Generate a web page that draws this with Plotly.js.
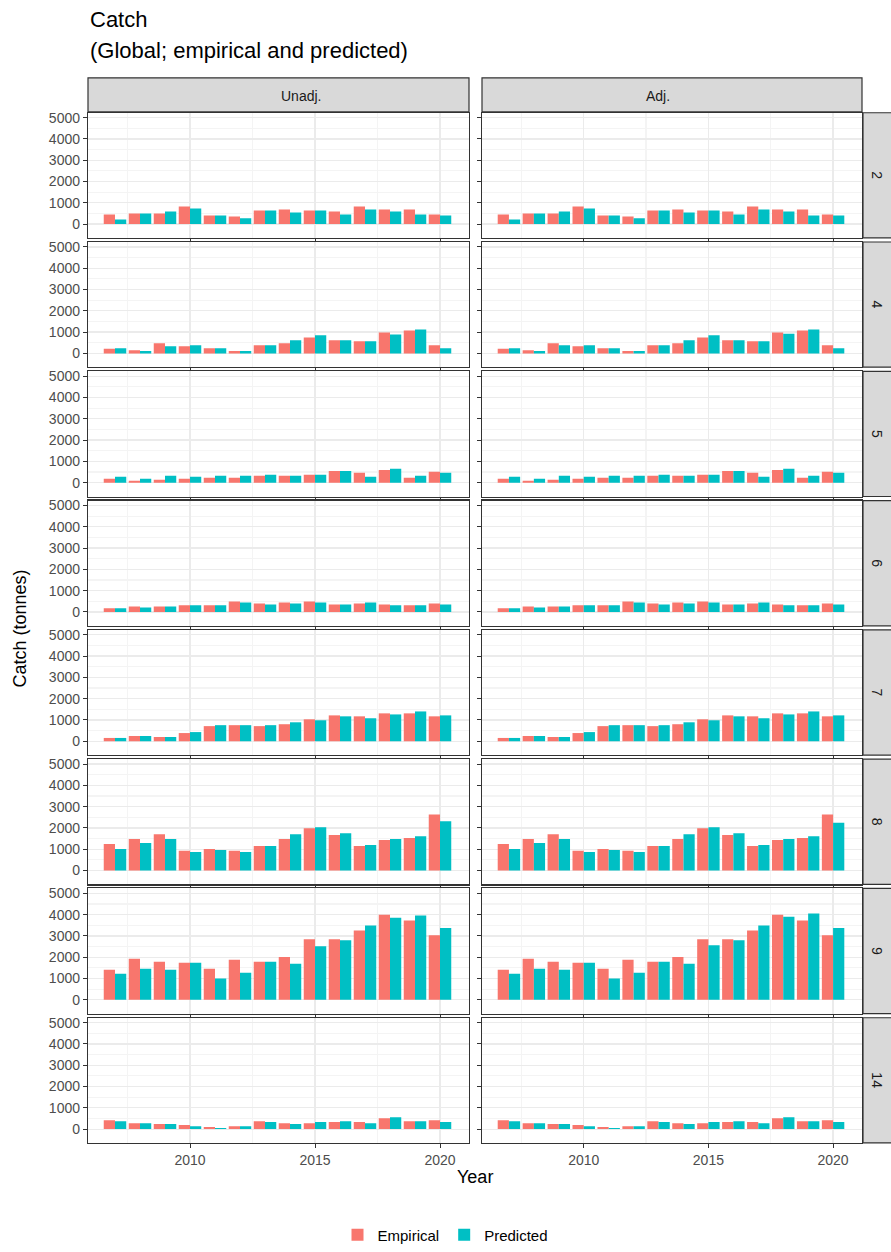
<!DOCTYPE html>
<html>
<head>
<meta charset="utf-8">
<script src="https://cdn.plot.ly/plotly-3.0.1.min.js"></script>
<style>body{margin:0}#chart{width:891px;height:1252px}</style>
</head>
<body>
<div id="chart"></div>
<script>
// Catch by area, empirical vs predicted, unadjusted and adjusted
const years = [2007, 2008, 2009, 2010, 2011, 2012, 2013, 2014, 2015, 2016, 2017, 2018, 2019, 2020];
const areas = ['2', '4', '5', '6', '7', '8', '9', '14'];
const columns = ['Unadj.', 'Adj.'];

const empUnadj = {
  '2':  [450, 500, 500, 830, 400, 360, 640, 690, 640, 590, 830, 690, 690, 450],
  '4':  [215, 150, 480, 340, 245, 110, 385, 480, 750, 615, 570, 985, 1080, 385],
  '5':  [185, 90, 140, 185, 230, 230, 320, 320, 370, 550, 460, 600, 230, 510],
  '6':  [170, 260, 260, 310, 310, 490, 400, 450, 490, 350, 400, 350, 310, 400],
  '7':  [155, 245, 200, 385, 710, 755, 710, 800, 1030, 1215, 1170, 1310, 1310, 1170],
  '8':  [1245, 1480, 1710, 925, 1015, 925, 1155, 1480, 1985, 1665, 1155, 1430, 1525, 2630],
  '9':  [1415, 1925, 1785, 1740, 1460, 1880, 1785, 2015, 2845, 2845, 3260, 4000, 3720, 3030],
  '14': [420, 280, 235, 190, 95, 140, 375, 280, 280, 330, 330, 515, 375, 420]
};
const predUnadj = {
  '2':  [220, 500, 590, 730, 400, 270, 640, 550, 640, 450, 690, 590, 450, 400],
  '4':  [245, 110, 340, 385, 245, 110, 385, 615, 850, 615, 570, 890, 1120, 245],
  '5':  [280, 185, 320, 280, 320, 320, 370, 320, 370, 550, 280, 650, 320, 460],
  '6':  [170, 215, 260, 310, 310, 450, 350, 400, 450, 350, 450, 310, 310, 350],
  '7':  [155, 245, 200, 430, 755, 755, 755, 890, 985, 1170, 1080, 1260, 1400, 1215],
  '8':  [1015, 1290, 1480, 875, 970, 875, 1155, 1710, 2030, 1755, 1200, 1480, 1615, 2310],
  '9':  [1230, 1460, 1415, 1740, 1000, 1275, 1785, 1690, 2520, 2800, 3490, 3860, 3955, 3370],
  '14': [375, 280, 235, 140, 50, 140, 330, 235, 330, 375, 280, 560, 375, 330]
};
const empAdj = empUnadj;
const predAdj = {
  '2':  [220, 500, 590, 730, 400, 270, 640, 550, 640, 450, 690, 590, 400, 400],
  '4':  [245, 110, 380, 385, 245, 110, 385, 615, 850, 615, 570, 920, 1120, 245],
  '5':  predUnadj['5'],
  '6':  predUnadj['6'],
  '7':  predUnadj['7'],
  '8':  [1015, 1290, 1480, 875, 970, 875, 1155, 1710, 2030, 1755, 1200, 1480, 1615, 2250],
  '9':  [1230, 1460, 1415, 1740, 1000, 1275, 1785, 1690, 2560, 2800, 3490, 3900, 4050, 3370],
  '14': predUnadj['14']
};

const W = 891, H = 1252;
const RED = '#F8766D', TEAL = '#00BFC4';
const colX = [[88, 469], [482, 862]];
const rowTop = 113, rowStep = 129.6, panelH = 125.5;
const px = v => v / W, py = v => 1 - v / H;

const traces = [], layout = {
  width: W, height: H, margin: { l: 0, r: 0, t: 0, b: 0 },
  paper_bgcolor: 'white', plot_bgcolor: 'white',
  font: { family: 'Liberation Sans, Arial, sans-serif', color: '#000' },
  barmode: 'group', bargap: 0.1, bargroupgap: 0,
  showlegend: true,
  legend: { orientation: 'h', x: 0.5, xanchor: 'center', y: py(1238), yanchor: 'middle',
            font: { size: 15 }, itemwidth: 30, traceorder: 'normal' },
  shapes: [], annotations: []
};

let n = 0;
areas.forEach((area, r) => {
  const y0 = rowTop + r * rowStep, y1 = y0 + panelH;
  columns.forEach((col, c) => {
    n++;
    const xa = 'xaxis' + (n === 1 ? '' : n), ya = 'yaxis' + (n === 1 ? '' : n);
    const xr = 'x' + (n === 1 ? '' : n), yr = 'y' + (n === 1 ? '' : n);
    const emp = c === 0 ? empUnadj[area] : empAdj[area];
    const pred = c === 0 ? predUnadj[area] : predAdj[area];
    traces.push({ type: 'bar', x: years, y: emp, name: 'Empirical', marker: { color: RED },
                  xaxis: xr, yaxis: yr, showlegend: n === 1, legendgroup: 'e', hoverinfo: 'y' });
    traces.push({ type: 'bar', x: years, y: pred, name: 'Predicted', marker: { color: TEAL },
                  xaxis: xr, yaxis: yr, showlegend: n === 1, legendgroup: 'p', hoverinfo: 'y' });
    const bottom = r === areas.length - 1, left = c === 0;
    layout[xa] = {
      domain: [px(colX[c][0]), px(colX[c][1])], anchor: yr,
      range: [2005.92, 2021.16], tickvals: [2010, 2015, 2020],
      showticklabels: bottom, ticks: 'outside', ticklen: 4, tickcolor: '#333',
      tickfont: { size: 14, color: '#4D4D4D' },
      showgrid: true, gridcolor: '#EBEBEB', gridwidth: 1.2,
      minor: { tickvals: [2007.5, 2012.5, 2017.5], showgrid: true, gridcolor: '#F4F4F4', ticks: '' },
      showline: true, mirror: true, linecolor: '#333', linewidth: 1.2, zeroline: false
    };
    layout[ya] = {
      domain: [py(y1), py(y0)], anchor: xr,
      range: [-650, 5230], tickvals: [0, 1000, 2000, 3000, 4000, 5000],
      showticklabels: left, ticks: 'outside', ticklen: 4, tickcolor: '#333',
      tickfont: { size: 14, color: '#4D4D4D' },
      showgrid: true, gridcolor: '#EBEBEB', gridwidth: 1.2,
      minor: { tickvals: [500, 1500, 2500, 3500, 4500], showgrid: true, gridcolor: '#F4F4F4', ticks: '' },
      showline: true, mirror: true, linecolor: '#333', linewidth: 1.2, zeroline: false
    };
    if (r === 0) {
      layout.shapes.push({ type: 'rect', xref: 'paper', yref: 'paper',
        x0: px(colX[c][0]), x1: px(colX[c][1]), y0: py(rowTop - 1), y1: py(78),
        fillcolor: '#D9D9D9', line: { color: '#333', width: 1.2 } });
      layout.annotations.push({ xref: 'paper', yref: 'paper', x: px((colX[c][0] + colX[c][1]) / 2),
        y: py(96), yanchor: 'middle', text: col, showarrow: false, font: { size: 14, color: '#1A1A1A' } });
    }
    if (c === 1) {
      layout.shapes.push({ type: 'rect', xref: 'paper', yref: 'paper',
        x0: px(863), x1: px(893), y0: py(y1), y1: py(y0),
        fillcolor: '#D9D9D9', line: { color: '#333', width: 1.2 } });
      layout.annotations.push({ xref: 'paper', yref: 'paper', x: px(877), xanchor: 'center',
        y: py((y0 + y1) / 2), yanchor: 'middle',
        text: area, textangle: 90, showarrow: false, font: { size: 14, color: '#1A1A1A' } });
    }
  });
});

layout.annotations.push(
  { xref: 'paper', yref: 'paper', x: px(88), y: py(20), xanchor: 'left', yanchor: 'middle',
    text: 'Catch', showarrow: false, font: { size: 22 } },
  { xref: 'paper', yref: 'paper', x: px(88), y: py(51), xanchor: 'left', yanchor: 'middle',
    text: '(Global; empirical and predicted)', showarrow: false, font: { size: 22 } },
  { xref: 'paper', yref: 'paper', x: px(20), xanchor: 'center', y: py(630), yanchor: 'middle',
    textangle: -90, text: 'Catch (tonnes)', showarrow: false, font: { size: 18 } },
  { xref: 'paper', yref: 'paper', x: px(475), xanchor: 'center', y: py(1180), yanchor: 'middle',
    text: 'Year', showarrow: false, font: { size: 18 } }
);

Plotly.newPlot('chart', traces, layout, { displayModeBar: false, staticPlot: true });
</script>
</body>
</html>
